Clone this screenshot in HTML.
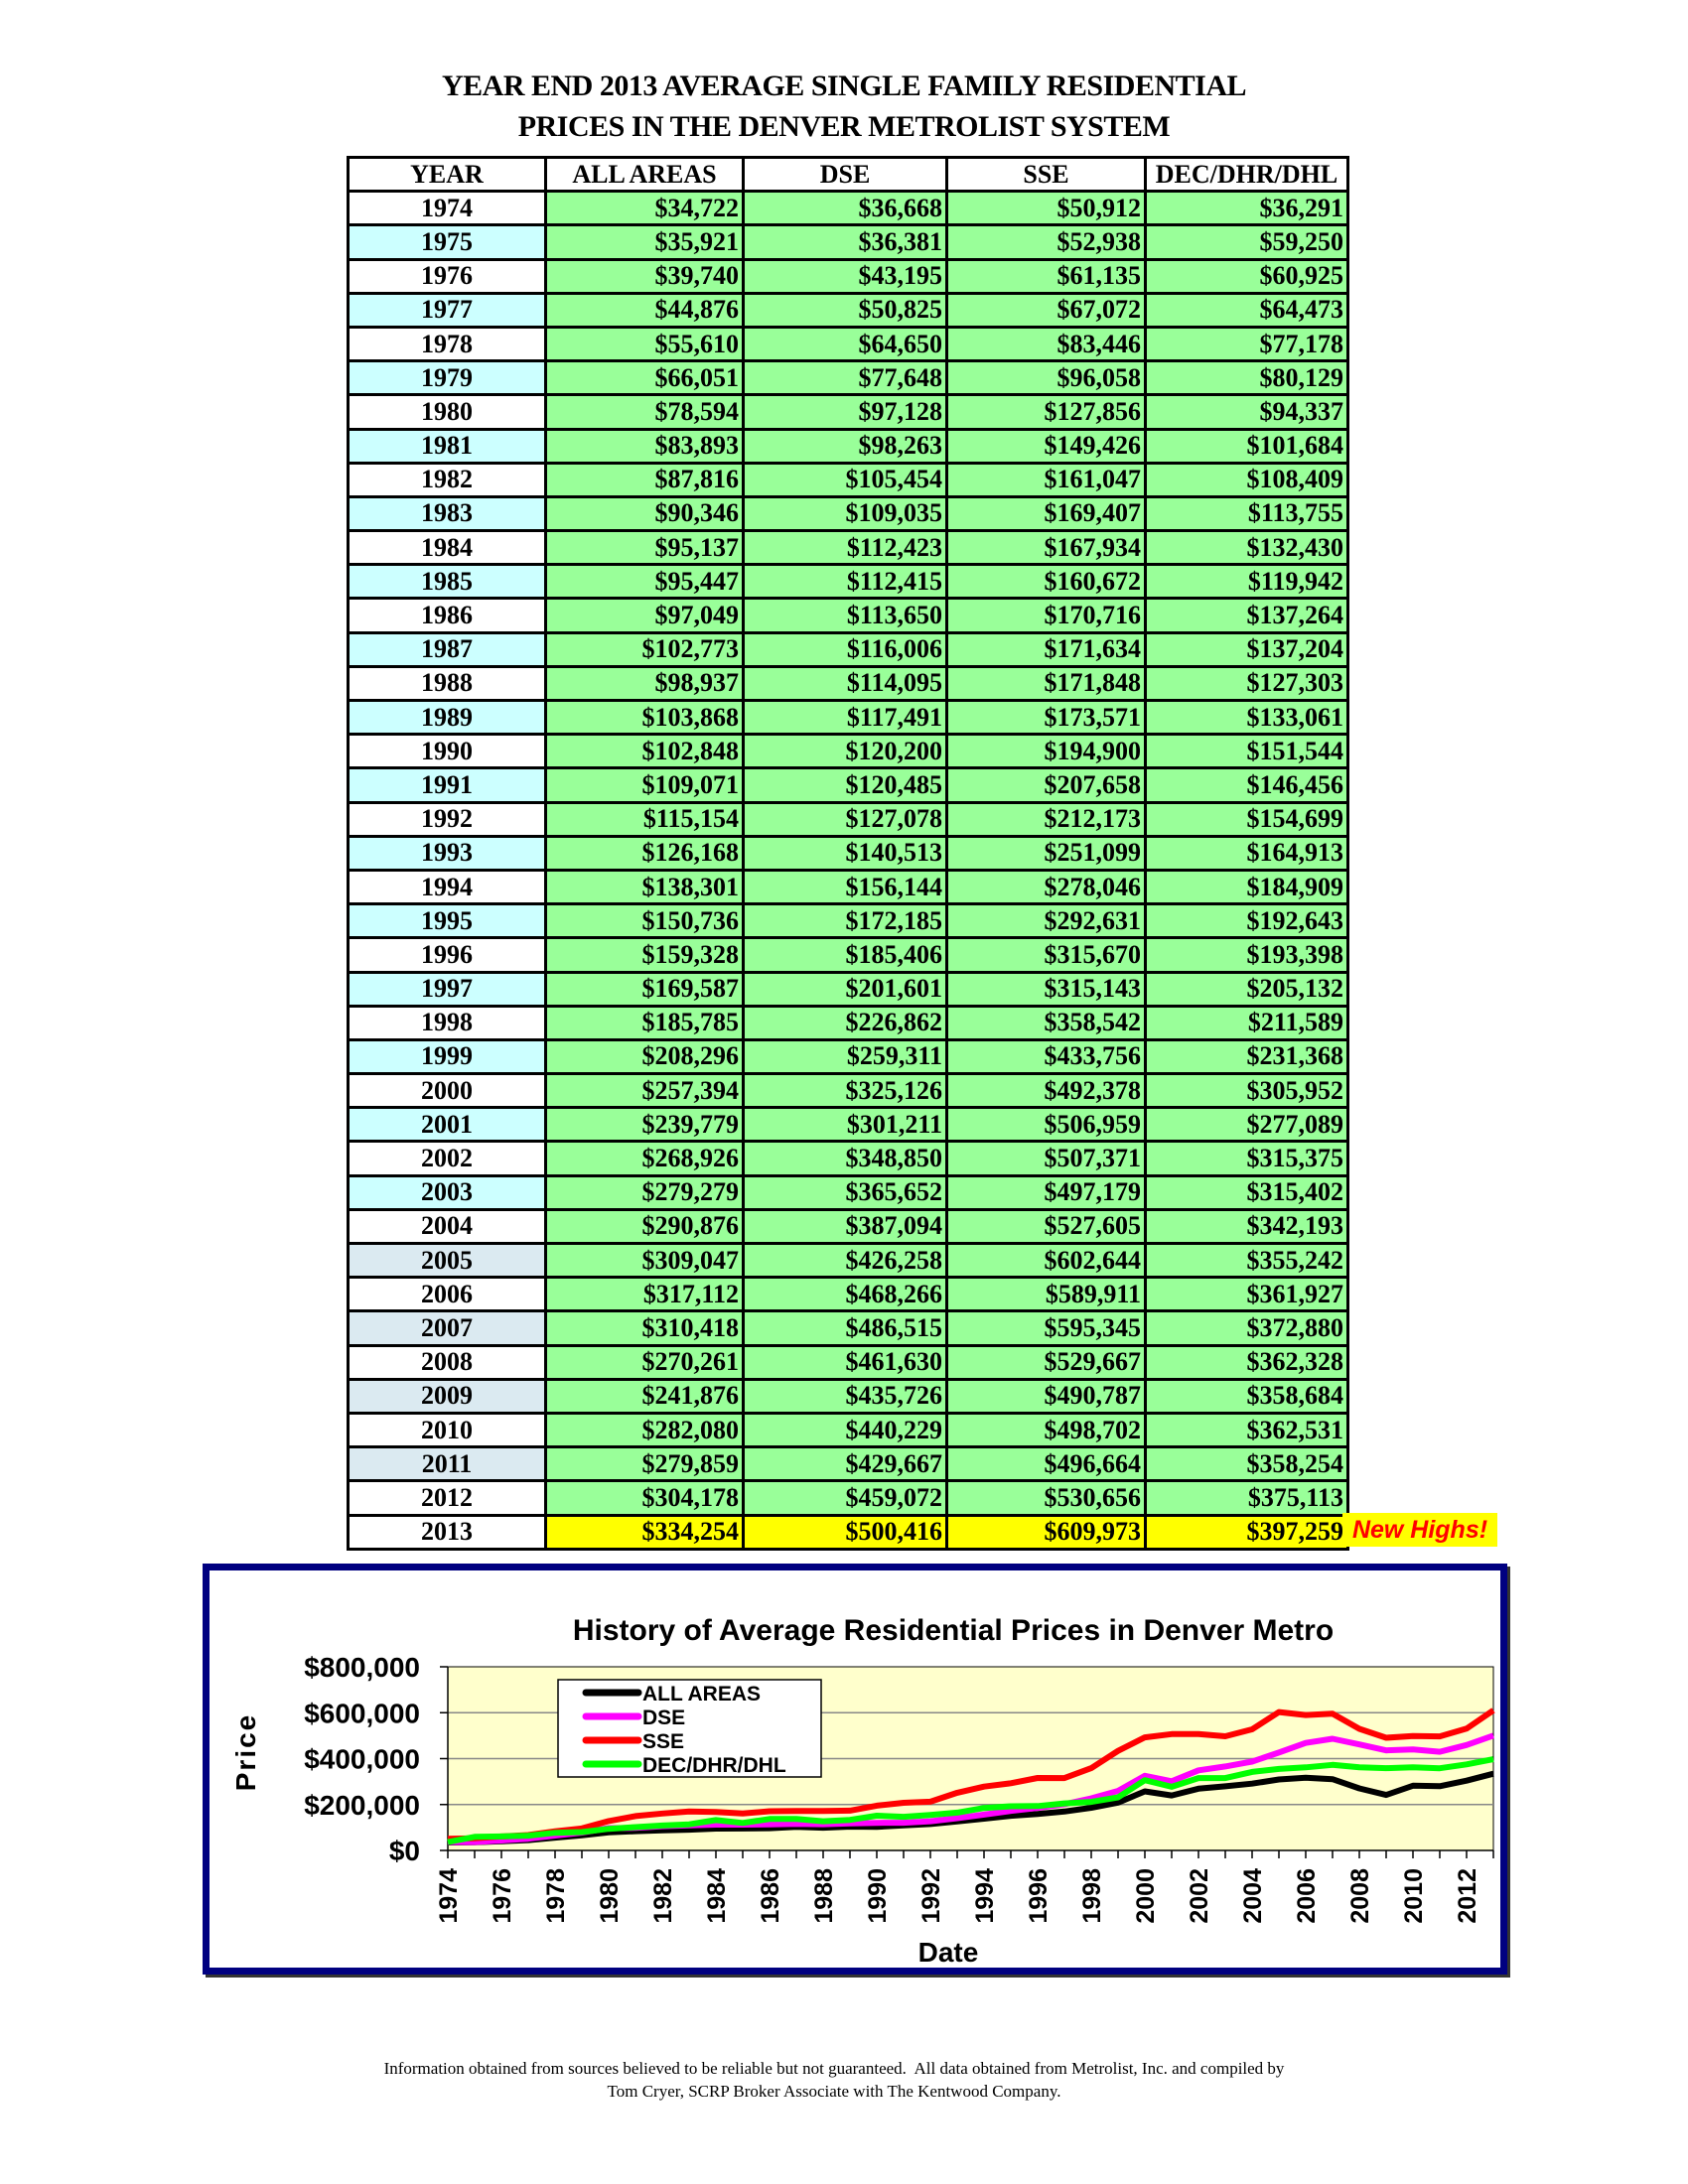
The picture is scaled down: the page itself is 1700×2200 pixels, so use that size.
<!DOCTYPE html>
<html><head><meta charset="utf-8">
<style>
body{margin:0;background:#fff;width:1700px;height:2200px;position:relative;font-family:"Liberation Serif",serif;}
.title{position:absolute;left:0;width:1700px;text-align:center;font-weight:bold;font-size:30px;letter-spacing:-0.5px;}
table{position:absolute;left:349px;top:157px;border-collapse:collapse;}
tr{height:34.2px;}
td{border:3px solid #000;padding:0 3px;font-weight:bold;font-size:26px;line-height:28px;text-align:right;background:#99ff99;}
td.y{text-align:center;background:#fff;width:190px;}
td.y.c{background:#ccffff;}
td.y.g{background:#dbeaf1;}
tr.h td{background:#fff;text-align:center;}
td.hi{background:#ffff00;}
#newhi{position:absolute;left:1352px;top:1524px;width:156px;height:34px;background:#ffff00;color:#ff0000;font:italic bold 25px "Liberation Sans",sans-serif;line-height:34px;text-align:center;}
#chartbox{position:absolute;left:204px;top:1575px;width:1300px;height:400px;border:7px solid #000080;box-shadow:3px 3px 0 #333;}
.foot{position:absolute;left:0;width:1680px;text-align:center;font-size:17px;}
</style></head><body>
<div class="title" style="top:70px">YEAR END 2013 AVERAGE SINGLE FAMILY RESIDENTIAL</div>
<div class="title" style="top:111px">PRICES IN THE DENVER METROLIST SYSTEM</div>
<table id="tbl">
<tr class="h"><td style="width:190px">YEAR</td><td style="width:190px">ALL AREAS</td><td style="width:196px">DSE</td><td style="width:191px">SSE</td><td style="width:195px">DEC/DHR/DHL</td></tr>
</table>
<div id="newhi">New Highs!</div>
<div id="chartbox"></div>
<svg id="chart" width="1700" height="2200" style="position:absolute;left:0;top:0"></svg>
<div class="foot" style="top:2074px">Information obtained from sources believed to be reliable but not guaranteed.&nbsp; All data obtained from Metrolist, Inc. and compiled by</div>
<div class="foot" style="top:2097px">Tom Cryer, SCRP Broker Associate with The Kentwood Company.</div>
<script>
const years=[1974,1975,1976,1977,1978,1979,1980,1981,1982,1983,1984,1985,1986,1987,1988,1989,1990,1991,1992,1993,1994,1995,1996,1997,1998,1999,2000,2001,2002,2003,2004,2005,2006,2007,2008,2009,2010,2011,2012,2013];
const allAreas=[34722,35921,39740,44876,55610,66051,78594,83893,87816,90346,95137,95447,97049,102773,98937,103868,102848,109071,115154,126168,138301,150736,159328,169587,185785,208296,257394,239779,268926,279279,290876,309047,317112,310418,270261,241876,282080,279859,304178,334254];
const dse=[36668,36381,43195,50825,64650,77648,97128,98263,105454,109035,112423,112415,113650,116006,114095,117491,120200,120485,127078,140513,156144,172185,185406,201601,226862,259311,325126,301211,348850,365652,387094,426258,468266,486515,461630,435726,440229,429667,459072,500416];
const sse=[50912,52938,61135,67072,83446,96058,127856,149426,161047,169407,167934,160672,170716,171634,171848,173571,194900,207658,212173,251099,278046,292631,315670,315143,358542,433756,492378,506959,507371,497179,527605,602644,589911,595345,529667,490787,498702,496664,530656,609973];
const dec=[36291,59250,60925,64473,77178,80129,94337,101684,108409,113755,132430,119942,137264,137204,127303,133061,151544,146456,154699,164913,184909,192643,193398,205132,211589,231368,305952,277089,315375,315402,342193,355242,361927,372880,362328,358684,362531,358254,375113,397259];
const seriesNames=["ALL AREAS","DSE","SSE","DEC/DHR/DHL"];
const seriesColors=["#000000","#ff00ff","#ff0000","#00ff00"];
const yTicks=[0,200000,400000,600000,800000];
const fmt=v=>"$"+v.toLocaleString("en-US");
const tbl=document.getElementById("tbl");
years.forEach((y,i)=>{
  const tr=document.createElement("tr");
  
  
  const cls=y===2013?"":(y>=2005?(i%2?"g":""):(i%2?"c":""));
  let h='<td class="y '+cls+'">'+y+'</td>';
  [allAreas,dse,sse,dec].forEach(a=>{h+='<td'+(y===2013?' class="hi"':'')+'>'+fmt(a[i])+'</td>';});
  tr.innerHTML=h;
  tbl.appendChild(tr);
});
const svg=document.getElementById("chart");
const NS="http://www.w3.org/2000/svg";
function mk(t,attrs,txt){const e=document.createElementNS(NS,t);for(const k in attrs)e.setAttribute(k,attrs[k]);if(txt!=null)e.textContent=txt;svg.appendChild(e);return e;}
const X0=451,X1=1504,Y0=1864,Y1=1679;
const xs=i=>X0+(X1-X0)*i/(years.length-1);
const ys=v=>Y0-(Y0-Y1)*v/800000;
let e=mk("rect",{x:X0,y:Y1,width:X1-X0,height:Y0-Y1,fill:"#ffffcc",stroke:"#000","stroke-width":1});

yTicks.forEach(t=>{
  if(t>0&&t<800000){e=mk("line",{x1:X0,x2:X1,y1:ys(t),y2:ys(t),stroke:"#888","stroke-width":1.5});
  }
  mk("line",{x1:X0-8,x2:X0,y1:ys(t),y2:ys(t),stroke:"#000","stroke-width":1.5});
  e=mk("text",{x:423,y:ys(t)+10,"text-anchor":"end","font-family":"Liberation Sans","font-weight":"bold","font-size":"28"},fmt(t));
  
});
mk("line",{x1:X0,x2:X0,y1:Y1,y2:Y0,stroke:"#000","stroke-width":1.5});
mk("line",{x1:X0,x2:X1,y1:Y0,y2:Y0,stroke:"#000","stroke-width":1.5});
years.forEach((y,i)=>{
  mk("line",{x1:xs(i),x2:xs(i),y1:Y0,y2:Y0+8,stroke:"#000","stroke-width":1.5});
  if(i%2===0){
    e=mk("text",{x:0,y:0,transform:`translate(${xs(i)+9},${Y0+18}) rotate(-90)`,"text-anchor":"end","font-family":"Liberation Sans","font-weight":"bold","font-size":"25"},String(y));
    
  }
});
[allAreas,dse,sse,dec].forEach((arr,k)=>{
  const pts=arr.map((v,i)=>xs(i).toFixed(1)+","+ys(v).toFixed(1)).join(" ");
  e=mk("polyline",{points:pts,fill:"none",stroke:seriesColors[k],"stroke-width":6,"stroke-linejoin":"round"});
  
  
});
e=mk("rect",{x:562,y:1692,width:265,height:98,fill:"#fff",stroke:"#000","stroke-width":1.5});

seriesNames.forEach((n,k)=>{
  const ly=1705+k*24;
  mk("line",{x1:590,x2:643,y1:ly,y2:ly,stroke:seriesColors[k],"stroke-width":7,"stroke-linecap":"round"});
  e=mk("text",{x:647,y:ly+8,"font-family":"Liberation Sans","font-weight":"bold","font-size":"21"},n);
  
});
e=mk("text",{x:960,y:1652,"text-anchor":"middle","font-family":"Liberation Sans","font-weight":"bold","font-size":"30"},"History of Average Residential Prices in Denver Metro");

e=mk("text",{x:0,y:0,transform:"translate(257,1765) rotate(-90)","text-anchor":"middle","font-family":"Liberation Sans","font-weight":"bold","font-size":"28","letter-spacing":"2"},"Price");

e=mk("text",{x:955,y:1976,"text-anchor":"middle","font-family":"Liberation Sans","font-weight":"bold","font-size":"28"},"Date");

</script>
</body></html>
